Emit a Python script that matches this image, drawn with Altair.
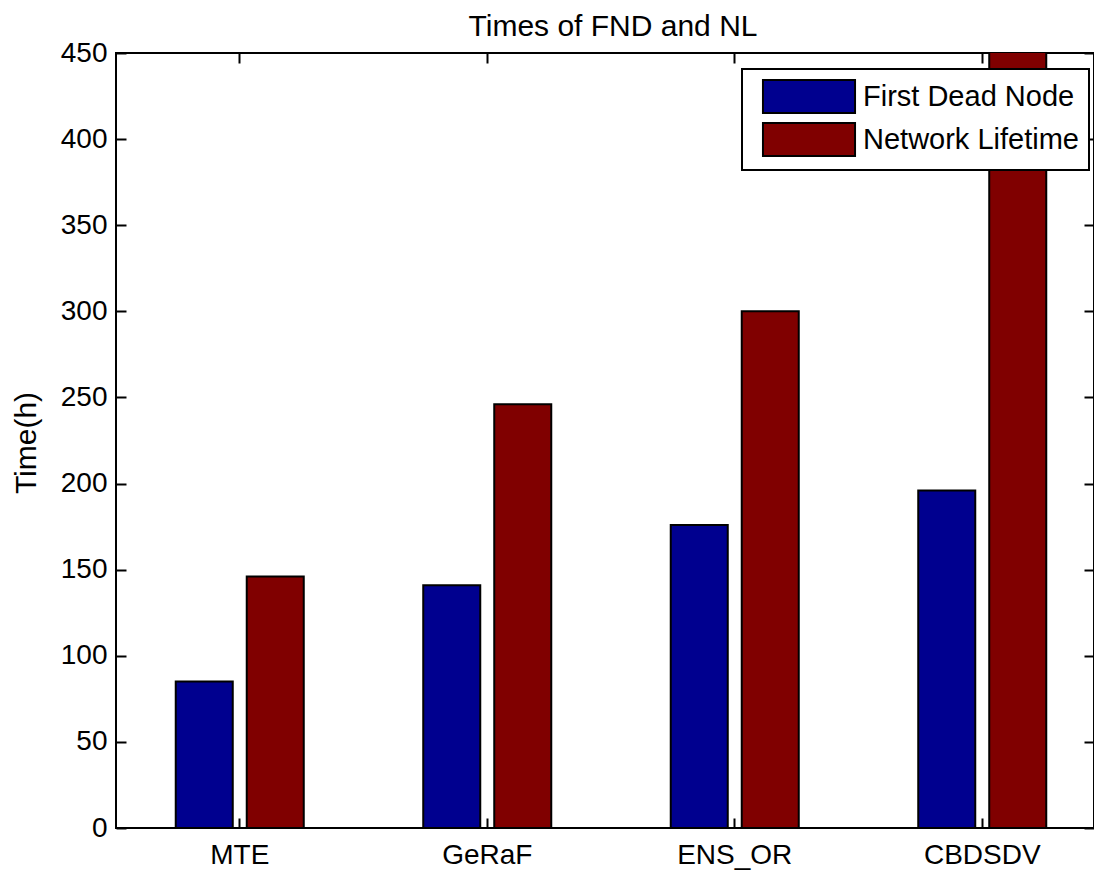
import altair as alt
import pandas as pd

title_text = "Times of FND and NL"
categories = ["MTE", "GeRaF", "ENS_OR", "CBDSDV"]
series = ["First Dead Node", "Network Lifetime"]
fnd = [85, 141, 176, 196]
nl = [146, 246, 300, 470]
colors = ["#00008F", "#800000"]
y_ticks = [0, 50, 100, 150, 200, 250, 300, 350, 400, 450]

rows = []
for c, a, b in zip(categories, fnd, nl):
    rows.append({"category": c, "series": series[0], "value": a})
    rows.append({"category": c, "series": series[1], "value": b})
df = pd.DataFrame(rows)

W, H = 978, 775
XR = 990  # x axis extends slightly beyond the visible frame, as in the original
FONT = "Liberation Sans"

xscale = alt.Scale(domain=categories, paddingInner=0, paddingOuter=0, range=[0, XR])
yscale = alt.Scale(domain=[0, 450], nice=False, zero=True)

bars = alt.Chart(df).mark_bar(stroke="black", strokeWidth=2, clip=True).encode(
    x=alt.X("category:N", sort=categories, scale=xscale, title=None,
            axis=alt.Axis(orient="bottom", labelAngle=0, ticks=False, domain=False,
                          labelPadding=13, labelFontSize=28, labelFont=FONT,
                          labelColor="black", grid=False)),
    xOffset=alt.XOffset("series:N", sort=series,
                        scale=alt.Scale(domain=series, paddingInner=0.197, paddingOuter=0.8415)),
    y=alt.Y("value:Q", scale=yscale, title="Time(h)",
            axis=alt.Axis(orient="left", values=y_ticks, ticks=False, domain=False, grid=False,
                          labelPadding=9, labelFontSize=28, labelFont=FONT, labelColor="black",
                          titleFontSize=30, titleFont=FONT, titleFontWeight="normal",
                          titleColor="black", titleX=-81, titleY=H / 2 + 2,
                          titleBaseline="alphabetic", titleAlign="center", titleAngle=270)),
    color=alt.Color("series:N", scale=alt.Scale(domain=series, range=colors),
                    legend=alt.Legend(title=None, orient="none", legendX=626, legendY=16,
                                      direction="vertical",
                                      symbolType="M-2.79,-1H2.79V1H-2.79Z", symbolSize=1089,
                                      symbolStrokeColor="black", symbolStrokeWidth=2,
                                      symbolOpacity=1, symbolOffset=39.5,
                                      labelFontSize=29, labelFont=FONT, labelColor="black",
                                      labelOffset=36.5, labelLimit=0, rowPadding=2, padding=10,
                                      strokeColor="black", fillColor="white", cornerRadius=0)),
)


def tick_layer(x_orient, y_orient):
    return alt.Chart(df).mark_point(opacity=0).encode(
        x=alt.X("category:N", sort=categories, scale=xscale, title=None,
                axis=alt.Axis(orient=x_orient, offset=-H, labels=False, domain=False,
                              ticks=True, tickSize=10, tickWidth=2, tickColor="black",
                              grid=False, title=None)),
        y=alt.Y("value:Q", scale=yscale, title=None,
                axis=alt.Axis(orient=y_orient, offset=-W, values=y_ticks, labels=False,
                              domain=False, ticks=True, tickSize=10, tickWidth=2,
                              tickColor="black", grid=False, title=None)),
    )


title_layer = alt.Chart(pd.DataFrame({"t": [title_text]})).mark_text(
    fontSize=30, font=FONT, color="black", align="center", baseline="alphabetic"
).encode(text="t:N", x=alt.value(W / 2 + 8), y=alt.value(-17))

chart = alt.layer(
    bars,
    tick_layer("top", "right"),
    tick_layer("bottom", "left"),
    title_layer,
).resolve_axis(x="independent", y="independent").properties(
    width=W,
    height=H,
    padding={"left": 108, "top": 45, "right": 0, "bottom": 42},
    autosize=alt.AutoSizeParams(type="none"),
).configure_view(stroke="black", strokeWidth=2).configure_legend(strokeWidth=2)

chart.save("out.html", embed_options={"renderer": "svg", "actions": False})
